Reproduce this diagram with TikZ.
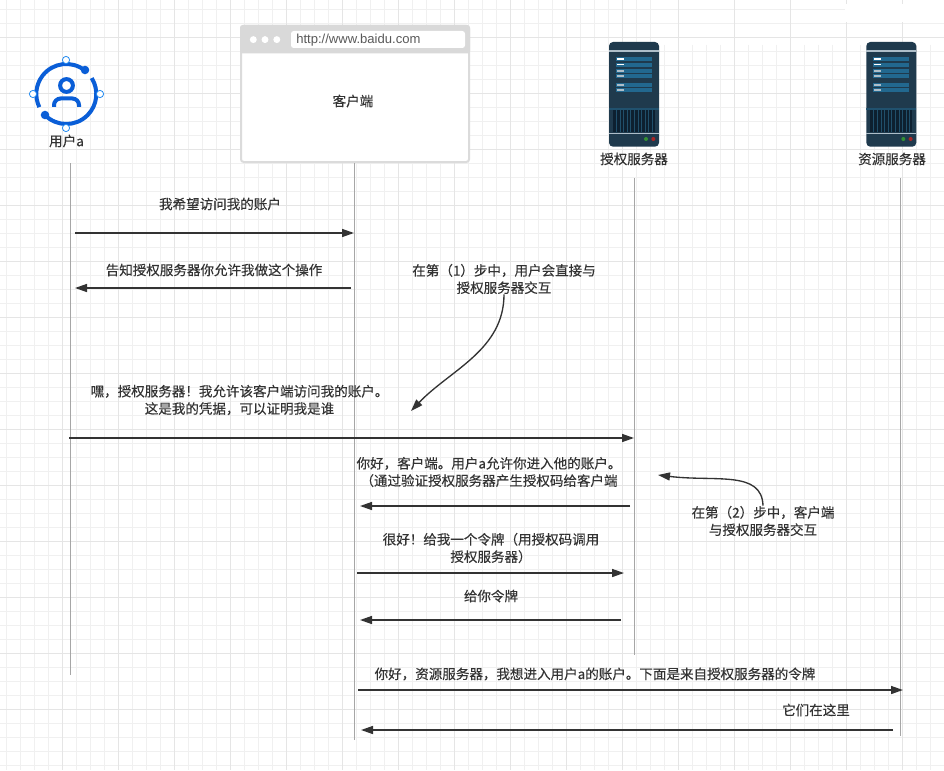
\documentclass[tikz,border=0pt]{standalone}
\usepackage{fontspec}
\setmainfont{Noto Sans CJK SC}[FakeBold=0.25]
\newfontfamily\urlfont{Liberation Sans}
\definecolor{inkcol}{HTML}{333333}
\definecolor{usercol}{HTML}{0A5ED7}
\definecolor{portcol}{HTML}{1E88F0}
\definecolor{racktop}{HTML}{1F3A4D}
\definecolor{rackslot}{HTML}{22688F}
\definecolor{rackvent}{HTML}{0D2030}
\definecolor{rackline}{HTML}{AEBEC9}
\usetikzlibrary{arrows.meta}
\tikzset{
  lbl/.style={text=inkcol,font=\fontsize{10.15}{13}\selectfont,align=center,inner sep=0pt},
  msg/.style={draw=inkcol,line width=1.1pt,-{Triangle[length=9pt,width=6pt]}},
  lifeline/.style={draw=black!35,line width=.75pt},
  note/.style={draw=inkcol,line width=1pt,-{Triangle[length=9pt,width=6pt]}},
  port/.style={draw=portcol,fill=white,line width=.6pt,circle,inner sep=0pt,minimum size=5.4pt}
}
\begin{document}
\begin{tikzpicture}[x=.75pt,y=-.75pt]
\useasboundingbox (0,0) rectangle (944,770);
\fill[white] (0,0) rectangle (944,770);
% grid
\foreach \i in {0,...,46} \draw[black!6,line width=.75pt] (6.3+14*\i,0) -- (6.3+14*\i,770);
\foreach \i in {47,...,67} \draw[black!6,line width=.75pt] (6.3+14*\i,45) -- (6.3+14*\i,770);
\foreach \i in {0,...,54} \draw[black!6,line width=.75pt] (0,9.3+14*\i) -- (944,9.3+14*\i);
\foreach \i in {0,...,15} \draw[black!10,line width=.75pt] (62.3+56*\i,0) -- (62.3+56*\i,770);
\foreach \i in {0,...,12} \draw[black!10,line width=.75pt] (0,37.3+56*\i) -- (944,37.3+56*\i);
\fill[white] (845,4) rectangle (944,22);
% user icon
\draw[usercol,line width=3pt] (66.3,94)++(52:22.5pt) arc[start angle=52,end angle=206,radius=22.5pt];
\draw[usercol,line width=3pt] (66.3,94)++(225:22.5pt) arc[start angle=225,end angle=392,radius=22.5pt];
\fill[usercol] (85,70) circle (3.2pt) (45,115) circle (3.2pt);
\draw[usercol,line width=3pt] (66.5,85.5) circle (4.8pt);
\draw[usercol,line width=3pt,rounded corners=5pt] (54,107) -- (54,98.5) -- (79,98.5) -- (79,107);
\node[port] (portn) at (66,60) {};
\node[port] (ports) at (66,128) {};
\node[port] (portw) at (33,94) {};
\node[port] (porte) at (100,94) {};
\node[lbl] (user) at (66.5,141) {用户a};
% browser window
\draw[black!14,fill=white,line width=1.5pt,rounded corners=2pt] (241,26) rectangle (469,162);
\fill[black!15,rounded corners=2pt] (240,25) rectangle (470,53.5);
\fill[white] (253.3,39.6) circle (2.6pt) (265,39.6) circle (2.6pt) (276.8,39.6) circle (2.6pt);
\fill[white,rounded corners=2pt] (291,31) rectangle (465,48);
\node[lbl,anchor=west,text=black!65,font=\urlfont\fontsize{9.8}{12}\selectfont] (url) at (296,40) {http://www.baidu.com};
\node[lbl] (client) at (353,101) {客户端};
% server icons
\foreach \sx in {0,257.3} {
\begin{scope}[shift={(\sx,0)}]
\fill[racktop,rounded corners=3pt] (609,42) rectangle (659,146.7);
\fill[rackline] (609,50) rectangle (659,51.6);
\fill[rackslot!50!racktop] (609,108) rectangle (659,110);
\foreach \ya/\barcol in {57/white,62.7/white,69/rackline,74.3/rackline,83/rackline,88/rackline} {
  \fill[rackslot] (616,\ya) rectangle (652,\ya+3.9);
  \fill[\barcol] (616.5,\ya+1.2) rectangle (624,\ya+2.6);
}
\fill[rackvent] (612.7,110) rectangle (655,131.7);
\foreach \i in {1,...,11} \fill[rackslot!45!racktop] (612.4+3.6*\i,110) rectangle (613.4+3.6*\i,131.7);
\fill[rackline] (609,132.6) rectangle (659,134);
\fill[green!45!black!80!white] (646,139) circle (1.5pt);
\fill[red!60!black!85!white] (653.3,139) circle (1.5pt);
\end{scope}
}
\node[lbl] (auth) at (634,159) {授权服务器};
\node[lbl] (res) at (892,159) {资源服务器};
% lifelines
\coordinate (usertop) at (70.5,163);
\coordinate (userend) at (70.5,675);
\coordinate (clienttop) at (354,163);
\coordinate (clientend) at (354,740);
\coordinate (authtop) at (634,178);
\coordinate (authend) at (634,655);
\coordinate (restop) at (900,178);
\coordinate (resend) at (900,736);
\foreach \nm in {user,client,auth,res} \draw[lifeline] (\nm top) -- (\nm end);
% messages
\foreach \nm/\xa/\xb/\yy in {one/75/354/233,two/351/75/288,three/69/634/438,four/630/360/506,five/357/624/573,six/621/360/620,seven/358/903/690,eight/893/361/730} {
  \coordinate (\nm from) at (\xa,\yy);
  \coordinate (\nm to) at (\xb,\yy);
  \draw[msg] (\nm from) -- (\nm to);
}
\node[lbl] (msgone) at (220,204) {我希望访问我的账户};
\node[lbl] (msgtwo) at (214,270) {告知授权服务器你允许我做这个操作};
\node[lbl] (msgthree) at (239.5,400) {嘿，授权服务器！我允许该客户端访问我的账户。\\这是我的凭据，可以证明我是谁};
\node[lbl] (msgfour) at (489,472) {你好，客户端。用户a允许你进入他的账户。\\（通过验证授权服务器产生授权码给客户端};
\node[lbl] (msgfive) at (491,548) {很好！给我一个令牌（用授权码调用\\授权服务器）};
\node[lbl] (msgsix) at (491,596) {给你令牌};
\node[lbl] (msgseven) at (595,674) {你好，资源服务器，我想进入用户a的账户。下面是来自授权服务器的令牌};
\node[lbl] (msgeight) at (816,710) {它们在这里};
% notes
\node[lbl] (noteone) at (504,279) {在第（1）步中，用户会直接与\\授权服务器交互};
\node[lbl] (notetwo) at (763,521) {在第（2）步中，客户端\\与授权服务器交互};
\coordinate (noteonetip) at (411,411);
\coordinate (notetwotip) at (658,475);
\draw[note] (noteone.south) .. controls (504,350) and (450,370) .. (noteonetip);
\draw[note] (notetwo.north) .. controls (762,470) and (715,482) .. (notetwotip);
\end{tikzpicture}
\end{document}
